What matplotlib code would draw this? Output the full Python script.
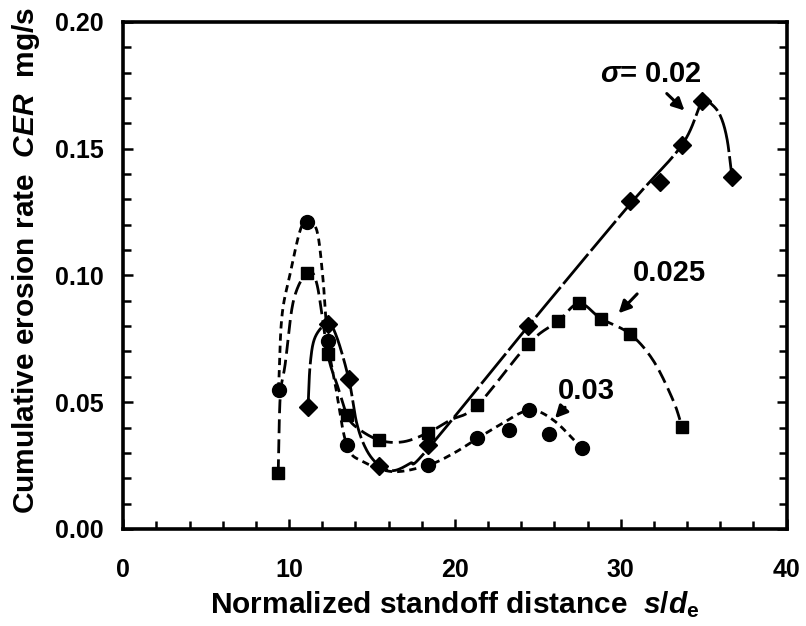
import numpy as np
import matplotlib
matplotlib.use("Agg")
import matplotlib.pyplot as plt
from matplotlib.ticker import MultipleLocator

plt.rcParams['font.family'] = ['Liberation Sans', 'DejaVu Sans']
plt.rcParams['font.weight'] = 'bold'
plt.rcParams['mathtext.fontset'] = 'custom'
plt.rcParams['mathtext.rm'] = 'Liberation Sans:bold'
plt.rcParams['mathtext.it'] = 'Liberation Sans:italic:bold'

# measured points, sigma = 0.02 (diamonds)
s02_x = [11.14, 12.33, 13.61, 15.44, 18.39, 24.42, 30.54, 32.39, 33.69, 34.92, 36.7]
s02_y = [0.048, 0.081, 0.059, 0.025, 0.033, 0.080, 0.1295, 0.137, 0.1515, 0.169, 0.139]

# sigma = 0.025 (squares)
s025_x = [9.34, 11.08, 12.33, 13.49, 15.44, 18.39, 21.35, 24.42, 26.22, 27.49, 28.8, 30.54, 33.69]
s025_y = [0.022, 0.101, 0.069, 0.045, 0.035, 0.038, 0.0488, 0.073, 0.082, 0.089, 0.083, 0.077, 0.0403]

# sigma = 0.03 (circles)
s03_x = [9.36, 11.07, 12.33, 13.48, 18.39, 21.35, 23.25, 24.46, 25.66, 27.63]
s03_y = [0.055, 0.121, 0.074, 0.033, 0.0252, 0.0357, 0.0392, 0.0468, 0.0374, 0.032]

# hand drawn trend curves
c02_x = [11.14, 11.27, 11.57, 12.33, 12.87, 13.61, 14.08, 14.68, 15.44, 16.28, 17.29,
         18.29, 24.42, 30.54, 33.69, 34.92, 35.46, 36.0, 36.4, 36.7]
c02_y = [0.048, 0.065, 0.0757, 0.081, 0.0757, 0.0587, 0.0416, 0.031, 0.025, 0.023, 0.0259,
         0.031, 0.080, 0.128, 0.1515, 0.169, 0.1676, 0.163, 0.154, 0.139]

c025_x = [9.34, 9.46, 9.76, 10.26, 11.08, 11.67, 12.33, 12.87, 13.49, 14.08, 15.44, 16.89,
          18.39, 19.7, 21.35, 24.42, 26.22, 27.49, 28.8, 30.54, 31.95, 33.15, 33.69]
c025_y = [0.022, 0.052, 0.065, 0.090, 0.101, 0.0967, 0.069, 0.0574, 0.045, 0.040, 0.035, 0.0344,
          0.038, 0.0429, 0.0488, 0.073, 0.082, 0.089, 0.083, 0.077, 0.0665, 0.0508, 0.0403]

c03_x = [9.36, 9.56, 10.06, 10.66, 11.07, 11.67, 12.03, 12.33, 12.77, 13.48, 14.48, 16.28,
         18.39, 19.9, 21.35, 22.7, 24.46, 25.92, 27.63]
c03_y = [0.055, 0.0836, 0.1007, 0.1177, 0.121, 0.1177, 0.0993, 0.074, 0.0574, 0.033, 0.0265, 0.0226,
         0.0252, 0.0298, 0.0357, 0.041, 0.0468, 0.043, 0.032]

labels = ["$\\sigma$= 0.02", "0.025", "0.03"]
label_xy = [(31.8, 0.1795), (32.95, 0.101), (27.9, 0.0545)]
arrow_tail = [(32.65, 0.1725), (31.1, 0.0935), (26.75, 0.0488)]
arrow_tip = [(33.96, 0.1643), (29.75, 0.0843), (25.92, 0.0429)]


def smooth(xs, ys, n=24):
    # catmull-rom through the knots, in axis-normalised units
    p = np.column_stack([np.asarray(xs) / 40.0, np.asarray(ys) / 0.2])
    p = np.vstack([2 * p[0] - p[1], p, 2 * p[-1] - p[-2]])
    t = np.linspace(0, 1, n, endpoint=False)[:, None]
    segs = []
    for i in range(1, len(p) - 2):
        p0, p1, p2, p3 = p[i - 1], p[i], p[i + 1], p[i + 2]
        segs.append(0.5 * (2 * p1 + (p2 - p0) * t + (2 * p0 - 5 * p1 + 4 * p2 - p3) * t ** 2
                           + (3 * p1 - p0 - 3 * p2 + p3) * t ** 3))
    segs.append(p[-2][None])
    q = np.vstack(segs)
    return q[:, 0] * 40.0, q[:, 1] * 0.2


fig = plt.figure(figsize=(8.06, 6.26), dpi=100)
ax = fig.add_axes([0.153, 0.155, 0.823, 0.810])

x, y = smooth(c02_x, c02_y)
ax.plot(x, y, color='black', lw=2, dashes=(14, 1.5))
x, y = smooth(c025_x, c025_y)
ax.plot(x, y, color='black', lw=2, dashes=(5, 2.2))
x, y = smooth(c03_x, c03_y)
ax.plot(x, y, color='black', lw=2, dashes=(2.6, 1.8))

ax.plot(s02_x, s02_y, 'D', color='black', ms=9)
ax.plot(s025_x, s025_y, 's', color='black', ms=9)
ax.plot(s03_x, s03_y, 'o', color='black', ms=10)

for lab, xy, tail, tip in zip(labels, label_xy, arrow_tail, arrow_tip):
    ax.text(xy[0], xy[1], lab, fontsize=21, fontweight='bold', ha='center', va='center')
    ax.annotate('', xy=tip, xytext=tail,
                arrowprops=dict(arrowstyle='-|>', color='black', lw=2.2, mutation_scale=18))

ax.set_xlim(0, 40)
ax.set_ylim(0, 0.20)
ax.xaxis.set_major_locator(MultipleLocator(10))
ax.xaxis.set_minor_locator(MultipleLocator(2))
ax.yaxis.set_major_locator(MultipleLocator(0.05))
ax.yaxis.set_minor_locator(MultipleLocator(0.01))
ax.yaxis.set_major_formatter(matplotlib.ticker.FormatStrFormatter('%.2f'))
ax.tick_params(which='both', direction='in', width=1.8, right=True, top=False, labelsize=18)
ax.tick_params(which='major', length=7)
ax.tick_params(which='minor', length=6)
ax.tick_params(axis='x', which='major', pad=21)
ax.tick_params(axis='y', which='major', pad=14)
for sp in ax.spines.values():
    sp.set_linewidth(2.6)

ax.set_xlabel("Normalized standoff distance  $s/d_{\\rm e}$", fontsize=21.5, fontweight='bold')
ax.set_ylabel("Cumulative erosion rate  $CER$  mg/s", fontsize=21.5, fontweight='bold')
ax.xaxis.set_label_coords(0.5, -0.118)
ax.yaxis.set_label_coords(-0.122, 0.53)

fig.savefig("out.png", dpi=100)
